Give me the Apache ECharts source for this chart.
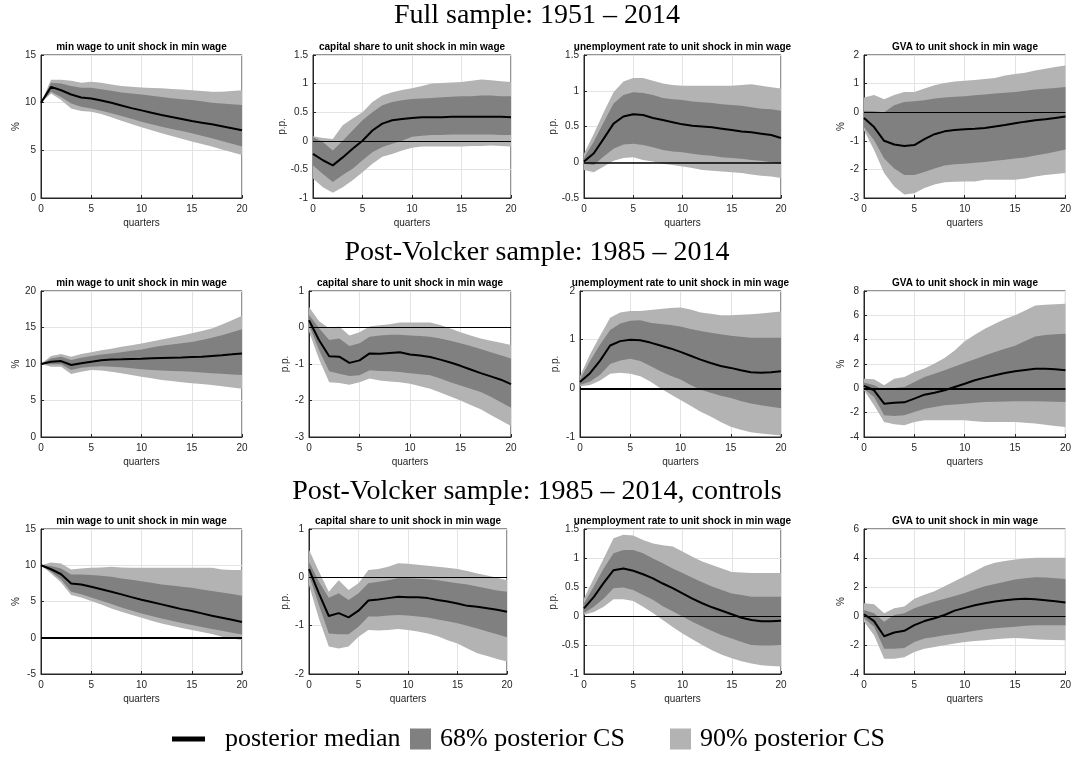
<!DOCTYPE html>
<html>
<head>
<meta charset="utf-8">
<script src="https://cdn.jsdelivr.net/npm/echarts@6/dist/echarts.min.js"></script>
<style>html,body{margin:0;padding:0;background:#fff}#c{width:1074px;height:759px}</style>
</head>
<body>
<div id="c"></div>
<script>
const quarters = [0,1,2,3,4,5,6,7,8,9,10,11,12,13,14,15,16,17,18,19,20];
const xTicks = [0,5,10,15,20];

const rowTitles = ['Full sample: 1951 – 2014', 'Post-Volcker sample: 1985 – 2014', 'Post-Volcker sample: 1985 – 2014, controls'];
const panelTitles = ['min wage to unit shock in min wage','capital share to unit shock in min wage','unemployment rate to unit shock in min wage','GVA to unit shock in min wage'];
const yUnits = ['%','p.p.','p.p.','%'];
const legendNames = ['posterior median','68% posterior CS','90% posterior CS'];

// y-axis ranges [min, max, interval] per panel
const yRanges = [
  [0,15,5],[-1,1.5,0.5],[-0.5,1.5,0.5],[-3,2,1],
  [0,20,5],[-3,1,1],[-1,2,1],[-4,8,2],
  [-5,15,5],[-2,1,1],[-1,1.5,0.5],[-4,6,2]
];

// ---- Full sample ----
const fs_wage_med  = [10,11.66,11.3,10.86,10.55,10.44,10.23,9.99,9.71,9.43,9.19,8.95,8.7,8.49,8.28,8.07,7.9,7.73,7.52,7.31,7.1];
const fs_wage_hi68 = [10,12.08,12.0,11.76,11.56,11.56,11.42,11.24,11.07,10.96,10.86,10.73,10.6,10.47,10.37,10.27,10.15,10.0,9.92,9.84,9.75];
const fs_wage_lo68 = [10,11.14,10.6,9.92,9.57,9.4,9.15,8.88,8.6,8.3,8.0,7.74,7.48,7.25,7.02,6.79,6.53,6.27,5.98,5.7,5.4];
const fs_wage_hi90 = [10,12.4,12.4,12.3,12.1,12.2,12.1,11.9,11.76,11.68,11.6,11.55,11.5,11.44,11.37,11.3,11.22,11.14,11.14,11.22,11.3];
const fs_wage_lo90 = [10,10.96,10.27,9.4,9.12,9.05,8.8,8.46,8.1,7.75,7.41,7.1,6.79,6.5,6.21,5.92,5.66,5.4,5.1,4.8,4.52];

const fs_cap_med  = [-0.23,-0.34,-0.43,-0.29,-0.14,0.0,0.18,0.3,0.36,0.38,0.4,0.41,0.41,0.41,0.42,0.42,0.42,0.42,0.42,0.42,0.41];
const fs_cap_hi68 = [0.06,-0.02,-0.17,0.0,0.18,0.36,0.5,0.62,0.68,0.71,0.73,0.74,0.75,0.76,0.77,0.78,0.78,0.79,0.79,0.78,0.78];
const fs_cap_lo68 = [-0.43,-0.58,-0.72,-0.6,-0.49,-0.34,-0.2,-0.11,-0.05,0.0,0.07,0.09,0.1,0.1,0.11,0.11,0.11,0.11,0.11,0.1,0.1];
const fs_cap_hi90 = [0.08,0.05,0.03,0.27,0.39,0.5,0.68,0.79,0.85,0.89,0.92,0.96,1.0,1.01,1.02,1.03,1.05,1.07,1.06,1.04,1.03];
const fs_cap_lo90 = [-0.66,-0.81,-0.91,-0.81,-0.69,-0.55,-0.4,-0.28,-0.23,-0.17,-0.12,-0.1,-0.1,-0.1,-0.1,-0.1,-0.09,-0.09,-0.08,-0.09,-0.1];

const fs_unemp_med  = [0.01,0.125,0.33,0.54,0.64,0.67,0.66,0.62,0.59,0.56,0.53,0.51,0.5,0.49,0.47,0.45,0.43,0.42,0.4,0.38,0.34];
const fs_unemp_hi68 = [0.06,0.29,0.56,0.82,0.94,0.98,0.97,0.94,0.9,0.88,0.87,0.85,0.84,0.83,0.81,0.8,0.79,0.77,0.75,0.74,0.72];
const fs_unemp_lo68 = [-0.02,-0.04,0.08,0.19,0.25,0.26,0.24,0.21,0.17,0.15,0.14,0.12,0.1,0.09,0.07,0.06,0.05,0.03,0.02,0.0,-0.02];
const fs_unemp_hi90 = [0.12,0.4,0.7,0.98,1.13,1.18,1.18,1.14,1.1,1.08,1.07,1.07,1.07,1.07,1.07,1.07,1.08,1.09,1.07,1.05,1.03];
const fs_unemp_lo90 = [-0.11,-0.14,-0.06,0.02,0.06,0.07,0.03,0.01,-0.02,-0.04,-0.06,-0.08,-0.11,-0.12,-0.13,-0.14,-0.15,-0.17,-0.19,-0.2,-0.22];

const fs_gva_med  = [-0.2,-0.52,-1.0,-1.13,-1.18,-1.15,-0.94,-0.77,-0.67,-0.62,-0.6,-0.58,-0.55,-0.5,-0.45,-0.39,-0.33,-0.28,-0.25,-0.2,-0.15];
const fs_gva_hi68 = [0.05,0.03,0.0,0.24,0.36,0.38,0.42,0.48,0.51,0.54,0.56,0.59,0.62,0.65,0.68,0.71,0.75,0.79,0.82,0.85,0.88];
const fs_gva_lo68 = [-0.53,-0.98,-1.62,-1.97,-2.2,-2.2,-2.09,-1.97,-1.86,-1.82,-1.8,-1.77,-1.74,-1.7,-1.66,-1.62,-1.58,-1.51,-1.45,-1.38,-1.3];
const fs_gva_hi90 = [0.51,0.6,0.45,0.6,0.71,0.71,0.83,0.94,1.02,1.07,1.1,1.13,1.16,1.2,1.28,1.34,1.38,1.46,1.52,1.58,1.63];
const fs_gva_lo90 = [-0.63,-1.32,-2.13,-2.6,-2.88,-2.83,-2.65,-2.53,-2.45,-2.43,-2.42,-2.42,-2.36,-2.36,-2.36,-2.36,-2.32,-2.25,-2.2,-2.16,-2.13];

// ---- Post-Volcker ----
const pv_wage_med  = [10,10.3,10.4,9.86,10.1,10.3,10.5,10.6,10.64,10.69,10.73,10.78,10.82,10.86,10.9,10.95,11.0,11.1,11.2,11.32,11.45];
const pv_wage_hi68 = [10,10.77,11.0,10.55,10.86,11.1,11.3,11.45,11.6,11.8,12.0,12.25,12.5,12.66,12.83,13.0,13.3,13.6,13.95,14.35,14.77];
const pv_wage_lo68 = [10,9.95,9.95,9.18,9.5,9.64,9.68,9.64,9.55,9.41,9.27,9.18,9.1,9.05,9.0,8.95,8.84,8.73,8.65,8.57,8.5];
const pv_wage_hi90 = [10,11.1,11.36,11.0,11.36,11.6,11.9,12.1,12.36,12.58,12.8,13.08,13.36,13.64,13.92,14.2,14.53,14.86,15.4,16.0,16.6];
const pv_wage_lo90 = [10,9.64,9.64,8.64,8.95,9.18,9.1,8.95,8.73,8.5,8.27,8.05,7.82,7.66,7.51,7.36,7.25,7.14,6.96,6.78,6.6];

const pv_cap_med  = [0.2,-0.35,-0.79,-0.8,-0.97,-0.9,-0.71,-0.72,-0.7,-0.68,-0.74,-0.77,-0.81,-0.88,-0.96,-1.05,-1.15,-1.25,-1.34,-1.43,-1.55];
const pv_cap_hi68 = [0.35,-0.02,-0.34,-0.3,-0.51,-0.43,-0.25,-0.22,-0.2,-0.2,-0.22,-0.23,-0.25,-0.3,-0.36,-0.43,-0.51,-0.59,-0.68,-0.76,-0.85];
const pv_cap_lo68 = [0.07,-0.62,-1.2,-1.27,-1.33,-1.31,-1.17,-1.19,-1.2,-1.22,-1.25,-1.28,-1.31,-1.4,-1.5,-1.59,-1.68,-1.77,-1.9,-2.05,-2.2];
const pv_cap_hi90 = [0.56,0.17,-0.02,0.03,-0.22,-0.13,0.03,0.06,0.09,0.14,0.14,0.14,0.14,0.07,-0.03,-0.13,-0.22,-0.3,-0.36,-0.42,-0.48];
const pv_cap_lo90 = [-0.11,-0.87,-1.5,-1.52,-1.57,-1.5,-1.4,-1.45,-1.48,-1.5,-1.54,-1.61,-1.68,-1.78,-1.89,-2.0,-2.12,-2.24,-2.4,-2.55,-2.7];

const pv_unemp_med  = [0.13,0.31,0.57,0.88,0.97,1.0,0.99,0.94,0.88,0.82,0.75,0.67,0.59,0.52,0.46,0.42,0.37,0.33,0.32,0.33,0.35];
const pv_unemp_hi68 = [0.18,0.56,0.9,1.2,1.33,1.39,1.4,1.35,1.32,1.3,1.27,1.22,1.18,1.14,1.11,1.08,1.06,1.04,1.04,1.04,1.04];
const pv_unemp_lo68 = [0.07,0.14,0.28,0.5,0.57,0.61,0.56,0.46,0.35,0.26,0.18,0.07,-0.03,-0.09,-0.15,-0.2,-0.26,-0.31,-0.35,-0.38,-0.41];
const pv_unemp_hi90 = [0.25,0.7,1.08,1.45,1.56,1.59,1.59,1.61,1.63,1.65,1.66,1.62,1.56,1.53,1.5,1.5,1.51,1.52,1.54,1.56,1.58];
const pv_unemp_lo90 = [0.04,0.07,0.16,0.3,0.32,0.3,0.25,0.14,0.0,-0.12,-0.24,-0.36,-0.48,-0.58,-0.69,-0.79,-0.85,-0.9,-0.93,-0.95,-0.97];

const pv_gva_med  = [0.2,-0.16,-1.26,-1.18,-1.15,-0.85,-0.52,-0.36,-0.16,0.11,0.38,0.66,0.88,1.07,1.26,1.4,1.5,1.6,1.6,1.56,1.48];
const pv_gva_hi68 = [0.47,0.25,-0.16,0.03,0.11,0.52,0.93,1.2,1.48,1.8,2.1,2.4,2.7,2.98,3.25,3.5,3.9,4.27,4.38,4.45,4.49];
const pv_gva_lo68 = [-0.03,-0.71,-2.22,-2.27,-2.22,-1.95,-1.67,-1.53,-1.4,-1.33,-1.26,-1.19,-1.12,-1.1,-1.08,-1.07,-1.07,-1.07,-1.09,-1.1,-1.12];
const pv_gva_hi90 = [0.79,0.74,0.25,0.79,0.93,1.34,1.62,2.05,2.5,3.1,3.86,4.41,4.9,5.3,5.7,6.0,6.4,6.8,6.88,6.92,6.96];
const pv_gva_lo90 = [-0.16,-1.4,-2.77,-2.96,-3.04,-2.77,-2.63,-2.63,-2.63,-2.63,-2.63,-2.7,-2.77,-2.77,-2.77,-2.77,-2.83,-2.9,-3.0,-3.1,-3.18];

// ---- Post-Volcker, controls ----
const pvc_wage_med  = [10,9.45,8.76,7.49,7.35,7.03,6.7,6.34,5.98,5.6,5.24,4.92,4.6,4.28,3.95,3.68,3.36,3.03,2.76,2.48,2.16];
const pvc_wage_hi68 = [10,9.9,9.56,8.73,8.73,8.64,8.55,8.41,8.18,8.0,7.8,7.58,7.36,7.2,7.05,6.9,6.67,6.44,6.23,6.02,5.8];
const pvc_wage_lo68 = [10,9.1,8.05,6.34,6.0,5.56,5.1,4.64,4.18,3.76,3.36,3.0,2.67,2.35,2.05,1.75,1.47,1.2,0.95,0.7,0.46];
const pvc_wage_hi90 = [10,10.37,10.23,9.4,9.56,9.65,9.7,9.79,9.7,9.65,9.65,9.65,9.65,9.65,9.65,9.65,9.65,9.65,9.4,9.36,9.33];
const pvc_wage_lo90 = [10,8.87,7.63,5.89,5.56,5.06,4.6,4.05,3.59,3.17,2.76,2.36,1.98,1.67,1.36,1.06,0.78,0.51,0.14,-0.1,-0.32];

const pvc_cap_med  = [0.17,-0.33,-0.8,-0.74,-0.83,-0.69,-0.48,-0.46,-0.43,-0.4,-0.41,-0.41,-0.43,-0.47,-0.5,-0.54,-0.59,-0.61,-0.64,-0.67,-0.71];
const pvc_cap_hi68 = [0.32,-0.09,-0.42,-0.33,-0.47,-0.33,-0.12,-0.09,-0.06,-0.02,-0.02,-0.03,-0.04,-0.06,-0.09,-0.12,-0.15,-0.19,-0.23,-0.27,-0.3];
const pvc_cap_lo68 = [0.05,-0.57,-1.16,-1.18,-1.18,-1.02,-0.81,-0.81,-0.79,-0.78,-0.79,-0.81,-0.83,-0.87,-0.91,-0.95,-1.0,-1.06,-1.12,-1.18,-1.24];
const pvc_cap_hi90 = [0.57,0.12,-0.3,-0.06,-0.26,-0.12,0.15,0.17,0.22,0.29,0.28,0.26,0.24,0.22,0.2,0.17,0.13,0.08,0.04,-0.01,-0.06];
const pvc_cap_lo90 = [-0.16,-0.85,-1.43,-1.47,-1.43,-1.23,-1.09,-1.1,-1.09,-1.07,-1.09,-1.12,-1.16,-1.22,-1.3,-1.37,-1.47,-1.57,-1.63,-1.69,-1.74];

const pvc_unemp_med  = [0.13,0.33,0.57,0.79,0.82,0.78,0.72,0.65,0.56,0.48,0.39,0.3,0.22,0.15,0.09,0.03,-0.03,-0.07,-0.09,-0.09,-0.08];
const pvc_unemp_hi68 = [0.22,0.51,0.82,1.08,1.14,1.14,1.08,0.99,0.91,0.82,0.74,0.66,0.58,0.51,0.45,0.39,0.36,0.33,0.33,0.33,0.33];
const pvc_unemp_lo68 = [0.05,0.16,0.3,0.48,0.49,0.45,0.36,0.28,0.17,0.08,-0.01,-0.1,-0.18,-0.26,-0.33,-0.39,-0.45,-0.5,-0.51,-0.51,-0.5];
const pvc_unemp_hi90 = [0.3,0.65,0.99,1.34,1.4,1.39,1.31,1.25,1.22,1.2,1.11,1.02,0.94,0.88,0.82,0.76,0.75,0.74,0.74,0.74,0.74];
const pvc_unemp_lo90 = [0.02,0.07,0.16,0.29,0.29,0.26,0.16,0.05,-0.07,-0.19,-0.3,-0.4,-0.5,-0.59,-0.67,-0.73,-0.78,-0.82,-0.85,-0.86,-0.87];

const pvc_gva_med  = [0.12,-0.35,-1.4,-1.14,-1.02,-0.63,-0.35,-0.16,0.07,0.37,0.56,0.74,0.88,1.0,1.09,1.16,1.19,1.16,1.09,1.02,0.93];
const pvc_gva_hi68 = [0.42,0.19,-0.4,0.07,0.19,0.53,0.77,1.0,1.19,1.38,1.58,1.82,2.05,2.2,2.36,2.51,2.6,2.67,2.65,2.6,2.56];
const pvc_gva_lo68 = [-0.16,-0.74,-2.26,-2.26,-2.21,-1.79,-1.56,-1.44,-1.33,-1.24,-1.14,-1.02,-0.91,-0.85,-0.8,-0.74,-0.68,-0.63,-0.63,-0.63,-0.63];
const pvc_gva_hi90 = [0.88,0.81,0.19,0.53,0.65,1.19,1.47,1.7,2.05,2.4,2.74,3.09,3.44,3.67,3.8,3.9,3.97,4.02,4.02,4.02,4.02];
const pvc_gva_lo90 = [-0.4,-1.33,-2.95,-2.95,-2.84,-2.49,-2.26,-2.14,-2.02,-1.9,-1.79,-1.73,-1.67,-1.6,-1.55,-1.51,-1.55,-1.6,-1.63,-1.65,-1.67];

const panelData = [
  [fs_wage_med, fs_wage_lo68, fs_wage_hi68, fs_wage_lo90, fs_wage_hi90],
  [fs_cap_med, fs_cap_lo68, fs_cap_hi68, fs_cap_lo90, fs_cap_hi90],
  [fs_unemp_med, fs_unemp_lo68, fs_unemp_hi68, fs_unemp_lo90, fs_unemp_hi90],
  [fs_gva_med, fs_gva_lo68, fs_gva_hi68, fs_gva_lo90, fs_gva_hi90],
  [pv_wage_med, pv_wage_lo68, pv_wage_hi68, pv_wage_lo90, pv_wage_hi90],
  [pv_cap_med, pv_cap_lo68, pv_cap_hi68, pv_cap_lo90, pv_cap_hi90],
  [pv_unemp_med, pv_unemp_lo68, pv_unemp_hi68, pv_unemp_lo90, pv_unemp_hi90],
  [pv_gva_med, pv_gva_lo68, pv_gva_hi68, pv_gva_lo90, pv_gva_hi90],
  [pvc_wage_med, pvc_wage_lo68, pvc_wage_hi68, pvc_wage_lo90, pvc_wage_hi90],
  [pvc_cap_med, pvc_cap_lo68, pvc_cap_hi68, pvc_cap_lo90, pvc_cap_hi90],
  [pvc_unemp_med, pvc_unemp_lo68, pvc_unemp_hi68, pvc_unemp_lo90, pvc_unemp_hi90],
  [pvc_gva_med, pvc_gva_lo68, pvc_gva_hi68, pvc_gva_lo90, pvc_gva_hi90]
];

// ---- layout (pixels) ----
const rowTop = [55, 291, 529];
const rowHeight = [143, 146, 145];
const rowHeaderY = [17, 254, 493];
const colLeft = [[41,313,584,864],[41,309,580,864],[41,309,584,864]];
const colWidth = [[201,198,197,202],[201,202,201,202],[201,198,197,202]];
const yNameGap = [[20,14,21,13],[20,19,20,13],[20,19,21,13]];
const zeroWidth = [0,1,1.6,1,0,1,2,2,2,1,1,1];

const C_DARK = '#808080', C_LIGHT = '#b3b3b3', C_TXT = '#262626';
const SANS = 'Liberation Sans, Arial, sans-serif';
const SERIF = 'Liberation Serif, Times New Roman, serif';

const grids = [], xAxes = [], yAxes = [], series = [], titles = [];

rowTitles.forEach((t, r) => {
  titles.push({text: t, left: 537, top: rowHeaderY[r] - 15, textAlign: 'center', padding: 0,
    textStyle: {fontFamily: SERIF, fontSize: 28, fontWeight: 'normal', color: '#000'}});
});

function band(idx, lo, hi, color, name) {
  return {
    type: 'custom', name: name, xAxisIndex: idx, yAxisIndex: idx, silent: true, z: 1,
    itemStyle: {color: color}, clip: true,
    data: [[quarters[0], lo[0]]],
    renderItem: function (params, api) {
      const pts = [];
      for (let i = 0; i < quarters.length; i++) pts.push(api.coord([quarters[i], hi[i]]));
      for (let i = quarters.length - 1; i >= 0; i--) pts.push(api.coord([quarters[i], lo[i]]));
      return {type: 'polygon', shape: {points: pts}, style: {fill: color, stroke: null}};
    }
  };
}

for (let p = 0; p < 12; p++) {
  const r = Math.floor(p / 4), c = p % 4;
  const left = colLeft[r][c], width = colWidth[r][c], top = rowTop[r], height = rowHeight[r];
  grids.push({left: left, top: top, width: width, height: height, show: true,
    borderColor: C_TXT, borderWidth: 1, backgroundColor: 'transparent', containLabel: false});
  titles.push({text: panelTitles[c], left: left + width / 2, top: top - 13, textAlign: 'center', padding: 0,
    textStyle: {fontFamily: SANS, fontSize: 10, fontWeight: 'bold', color: '#000'}});
  xAxes.push({type: 'value', gridIndex: p, min: xTicks[0], max: xTicks[xTicks.length - 1], interval: 5,
    name: 'quarters', nameLocation: 'middle', nameGap: 20,
    nameTextStyle: {fontFamily: SANS, fontSize: 10, color: C_TXT},
    axisLine: {show: true, onZero: false, lineStyle: {color: C_TXT, width: 1}},
    axisTick: {show: true, inside: true, length: 3, lineStyle: {color: C_TXT}},
    axisLabel: {fontFamily: SANS, fontSize: 10, color: C_TXT, margin: 6},
    splitLine: {show: true, lineStyle: {color: '#e3e3e3', width: 1}}});
  const yr = yRanges[p];
  yAxes.push({type: 'value', gridIndex: p, min: yr[0], max: yr[1], interval: yr[2],
    name: yUnits[c], nameLocation: 'middle', nameGap: yNameGap[r][c],
    nameTextStyle: {fontFamily: SANS, fontSize: 10, color: C_TXT},
    axisLine: {show: true, onZero: false, lineStyle: {color: C_TXT, width: 1}},
    axisTick: {show: true, inside: true, length: 3, lineStyle: {color: C_TXT}},
    axisLabel: {fontFamily: SANS, fontSize: 10, color: C_TXT, margin: 5},
    splitLine: {show: true, lineStyle: {color: '#e3e3e3', width: 1}}});
  const d = panelData[p];
  series.push(band(p, d[3], d[4], C_LIGHT, legendNames[2]));
  series.push(band(p, d[1], d[2], C_DARK, legendNames[1]));
  const medSeries = {type: 'line', name: legendNames[0], xAxisIndex: p, yAxisIndex: p, z: 5,
    data: quarters.map((q, i) => [q, d[0][i]]), showSymbol: false, symbol: 'none', silent: true,
    lineStyle: {color: '#000', width: 2}, itemStyle: {color: '#000'}};
  if (zeroWidth[p] > 0) {
    medSeries.markLine = {silent: true, symbol: ['none', 'none'], animation: false,
      label: {show: false}, lineStyle: {color: '#000', width: zeroWidth[p], type: 'solid'},
      data: [{yAxis: 0}]};
  }
  series.push(medSeries);
}

const legendText = {fontFamily: SERIF, fontSize: 26, color: '#000'};
const legends = [
  {data: [legendNames[0]], left: 172, top: 726, padding: 0, icon: 'rect', itemWidth: 33, itemHeight: 5,
    textStyle: Object.assign({padding: [0, 0, 0, 15]}, legendText), selectedMode: false},
  {data: [legendNames[1]], left: 410, top: 726, padding: 0, icon: 'rect', itemWidth: 21, itemHeight: 21,
    textStyle: Object.assign({padding: [0, 0, 0, 4]}, legendText), selectedMode: false},
  {data: [legendNames[2]], left: 670, top: 726, padding: 0, icon: 'rect', itemWidth: 21, itemHeight: 21,
    textStyle: Object.assign({padding: [0, 0, 0, 4]}, legendText), selectedMode: false}
];

const chart = echarts.init(document.getElementById('c'), null, {renderer: 'canvas'});
chart.setOption({
  animation: false,
  backgroundColor: '#fff',
  title: titles,
  legend: legends,
  grid: grids,
  xAxis: xAxes,
  yAxis: yAxes,
  series: series
});
</script>
</body>
</html>
